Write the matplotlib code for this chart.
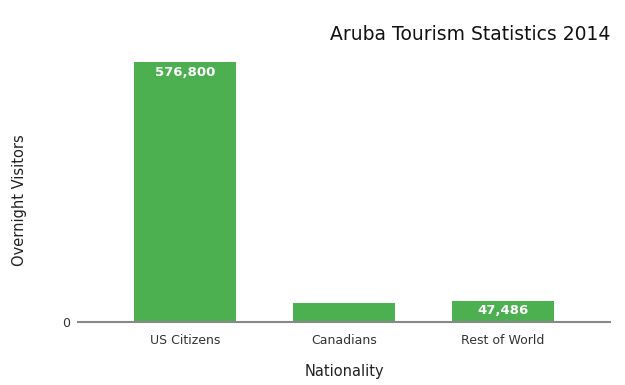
import matplotlib
matplotlib.use("Agg")
import matplotlib.pyplot as plt

categories = ["US Citizens", "Canadians", "Rest of World"]
visitors = [576800, 43000, 47486]
labels = ["576,800", "", "47,486"]

fig = plt.figure(figsize=(6.25, 3.85), dpi=100)
ax = fig.add_axes([78/625, 1-322/385, (610-78)/625, (322-50)/385])
green = "#4caf50"
x = range(len(categories))
bars = ax.bar(x, visitors, width=0.645, color=green, zorder=2)
for b, lab in zip(bars, labels):
    if lab:
        ax.text(b.get_x() + b.get_width()/2, b.get_height() - 8500, lab,
                ha="center", va="top", color="white", fontweight="bold", fontsize=9.5)
ax.set_xlim(-0.675, 2.675)
ax.set_ylim(0, 603400)
ax.set_xticks(list(x))
ax.set_xticklabels(categories, fontsize=9, color="#333333")
ax.set_yticks([0])
ax.set_yticklabels(["0"], fontsize=9, color="#333333")
ax.tick_params(length=0, pad=9)
ax.tick_params(axis="y", pad=6)
for s in ["top", "right", "left"]:
    ax.spines[s].set_visible(False)
ax.spines["bottom"].set_color("#888888")
ax.spines["bottom"].set_linewidth(1.5)
ax.spines["bottom"].set_zorder(3)
ax.set_xlabel("Nationality", fontsize=10.5, color="#222222", labelpad=12)
ax.set_ylabel("Overnight Visitors", fontsize=10.5, color="#222222")
ax.yaxis.set_label_coords((27-78)/532, (322-200)/272)
fig.text(610/625, 1-35/385, "Aruba Tourism Statistics 2014", ha="right", va="center",
         fontsize=13.5, color="#111111")
fig.savefig("out.png", dpi=100)
